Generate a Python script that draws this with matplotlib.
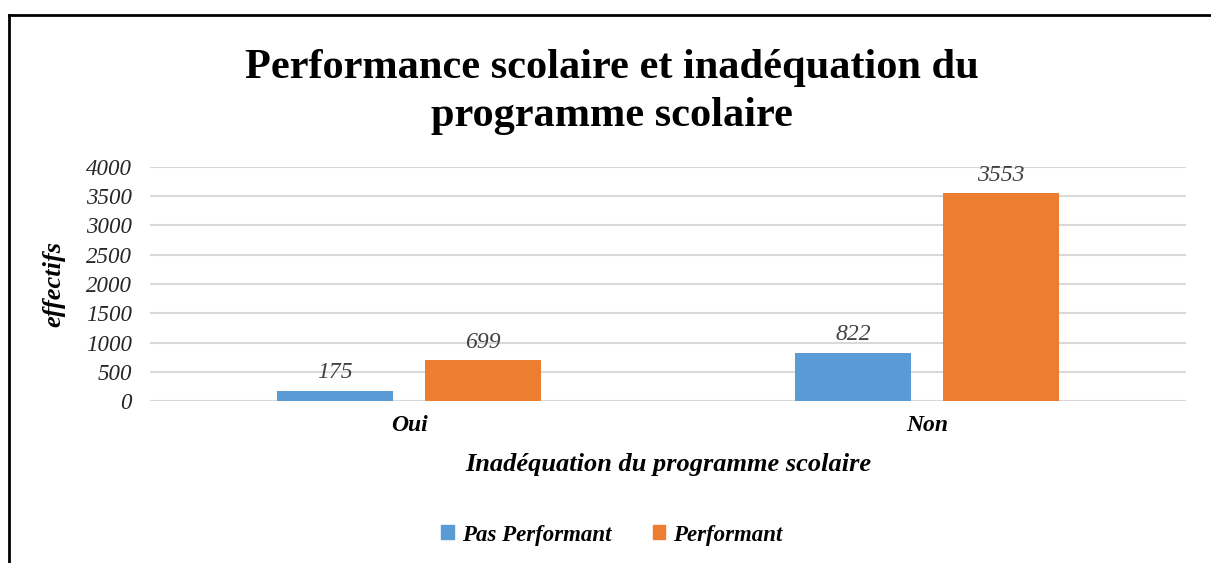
import numpy as np
import matplotlib.pyplot as plt
from matplotlib.lines import Line2D

plt.rcParams['font.family'] = ['Liberation Serif', 'DejaVu Serif']

categories = ['Oui', 'Non']
pas_performant = [175, 822]
performant = [699, 3553]
series_names = ['Pas Performant', 'Performant']
colors = ['#5B9BD5', '#ED7D31']
yticks = [0, 500, 1000, 1500, 2000, 2500, 3000, 3500, 4000]

fig = plt.figure(figsize=(12.11, 5.63), dpi=100)
ax = fig.add_axes([0.1239, 0.2877, 0.8555, 0.4157])

x = np.arange(len(categories))
w = 0.224
off = 0.143
b1 = ax.bar(x - off, pas_performant, w, color=colors[0], label=series_names[0], zorder=3)
b2 = ax.bar(x + off, performant, w, color=colors[1], label=series_names[1], zorder=3)

for bars in (b1, b2):
    for r in bars:
        ax.text(r.get_x() + r.get_width() / 2, r.get_height() + 130, str(int(r.get_height())),
                ha='center', va='bottom', fontsize=17, style='italic', color='#404040')

ax.set_xlim(-0.5, 1.5)
ax.set_ylim(0, 4000)
ax.set_yticks(yticks)
ax.set_yticklabels([str(v) for v in yticks], fontsize=16.5, style='italic', color='#262626')
ax.set_xticks(x)
ax.set_xticklabels(categories, fontsize=17, style='italic', fontweight='bold')
ax.tick_params(axis='both', length=0, pad=10)
ax.tick_params(axis='y', pad=13)
ax.grid(axis='y', color='#d9d9d9', linewidth=1.5, zorder=0)
for s in ax.spines.values():
    s.set_visible(False)

ax.set_xlabel('Inadéquation du programme scolaire', fontsize=19, style='italic',
              fontweight='bold', labelpad=12)
fig.text(54 / 1211, 1 - 284 / 563, 'effectifs', rotation=90, ha='center', va='center',
         fontsize=19, style='italic', fontweight='bold')

fig.text(612 / 1211, 1 - 92 / 563, 'Performance scolaire et inadéquation du\nprogramme scolaire',
         ha='center', va='center', fontsize=30.5, fontweight='bold', linespacing=1.33)

handles = [plt.Rectangle((0, 0), 1, 1, color=c) for c in colors]
fig.legend(handles, series_names, loc='center', bbox_to_anchor=(612 / 1211, 1 - 535 / 563),
           ncol=2, frameon=False, prop={'size': 16.5, 'style': 'italic', 'weight': 'bold'},
           handlelength=0.55, handleheight=0.55, handletextpad=0.35, columnspacing=1.8)

# cropped chart border
fig.add_artist(Line2D([9 / 1211, 9 / 1211], [0, 1 - 15 / 563], color='black', lw=2,
                      transform=fig.transFigure))
fig.add_artist(Line2D([9 / 1211, 1], [1 - 15 / 563, 1 - 15 / 563], color='black', lw=2,
                      transform=fig.transFigure))

fig.savefig('out.png', dpi=100)
